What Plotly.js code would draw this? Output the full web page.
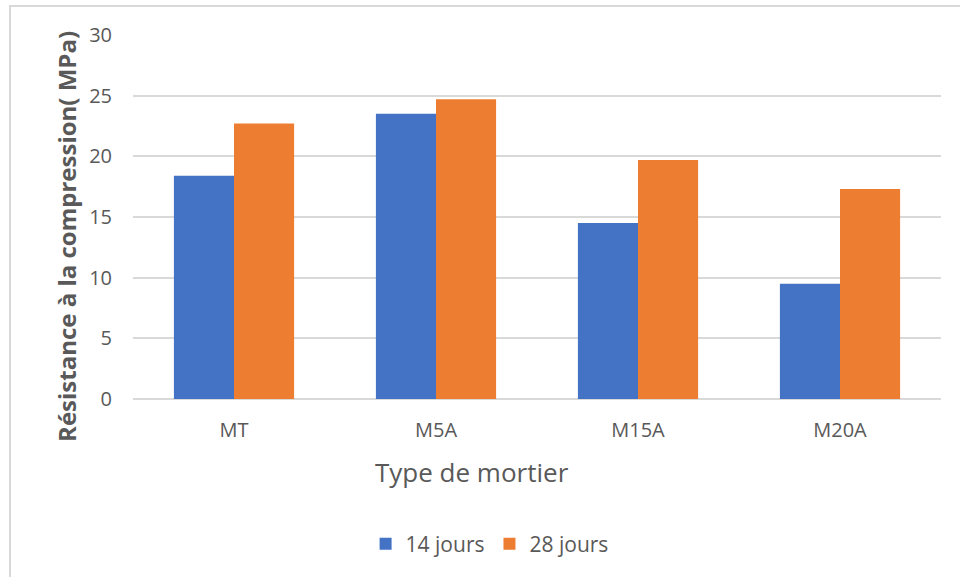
<!DOCTYPE html>
<html>
<head>
<meta charset="utf-8">
<script src="https://cdn.plot.ly/plotly-3.0.1.min.js"></script>
<style>
html,body{margin:0;padding:0;background:#fff;overflow:hidden;}
#wrap{position:absolute;left:0;top:0;width:960px;height:577px;}
#frame{position:absolute;left:9px;top:5px;width:980px;height:600px;border-left:2px solid #d9d9d9;border-top:2px solid #d9d9d9;pointer-events:none;}
#chart{position:absolute;left:0;top:0;width:960px;height:577px;}
</style>
</head>
<body>
<div id="wrap">
<div id="chart"></div>
<div id="frame"></div>
</div>
<script>
const categories = ["MT", "M5A", "M15A", "M20A"];
const seriesNames = ["14 jours", "28 jours"];
const values14 = [18.4, 23.5, 14.5, 9.5];
const values28 = [22.7, 24.7, 19.7, 17.3];
const yTicks = [0, 5, 10, 15, 20, 25, 30];
const xTitle = "Type de mortier";
const yTitle = "Résistance à la compression( MPa)";

const FONT = "Open Sans, Liberation Sans, sans-serif";
const GREY = "#595959";

const traces = [
  {type: "bar", name: seriesNames[0], x: categories, y: values14,
   marker: {color: "#4472C4"}},
  {type: "bar", name: seriesNames[1], x: categories, y: values28,
   marker: {color: "#ED7D31"}}
];

const layout = {
  width: 960, height: 577,
  margin: {l: 133, r: 19, t: 35, b: 178},
  paper_bgcolor: "rgba(0,0,0,0)",
  plot_bgcolor: "#fff",
  barmode: "group",
  bargap: 0.405,
  bargroupgap: 0,
  font: {family: FONT, color: GREY, size: 20},
  xaxis: {
    type: "category",
    showgrid: false, zeroline: false, showline: false, ticks: "",
    tickfont: {family: FONT, size: 20, color: GREY},
    ticklabelstandoff: 17
  },
  yaxis: {
    range: [0, 30],
    tickvals: yTicks,
    ticktext: yTicks.map(String),
    showgrid: true, gridcolor: "#d9d9d9", gridwidth: 2,
    zeroline: true, zerolinecolor: "#d9d9d9", zerolinewidth: 2,
    showline: false, ticks: "",
    tickfont: {family: FONT, size: 20, color: GREY},
    ticklabelstandoff: 20
  },
  annotations: [
    {text: xTitle, xref: "paper", yref: "paper", x: 0.4196, y: -0.2005,
     xanchor: "center", yanchor: "middle", showarrow: false,
     font: {family: FONT, size: 26, color: GREY}},
    {text: "<b>" + yTitle + "</b>", xref: "paper", yref: "paper", x: -0.0817, y: 0.448,
     xanchor: "center", yanchor: "middle", showarrow: false, textangle: -90,
     font: {family: FONT, size: 24, color: GREY}}
  ],
  legend: {
    orientation: "h",
    x: 0.51, xanchor: "center", xref: "container",
    y: 0.057, yanchor: "middle", yref: "container",
    font: {family: FONT, size: 21, color: GREY},
    itemwidth: 30,
    traceorder: "normal"
  },
  showlegend: true
};

Plotly.newPlot("chart", traces, layout, {displayModeBar: false, staticPlot: true});
</script>
</body>
</html>
